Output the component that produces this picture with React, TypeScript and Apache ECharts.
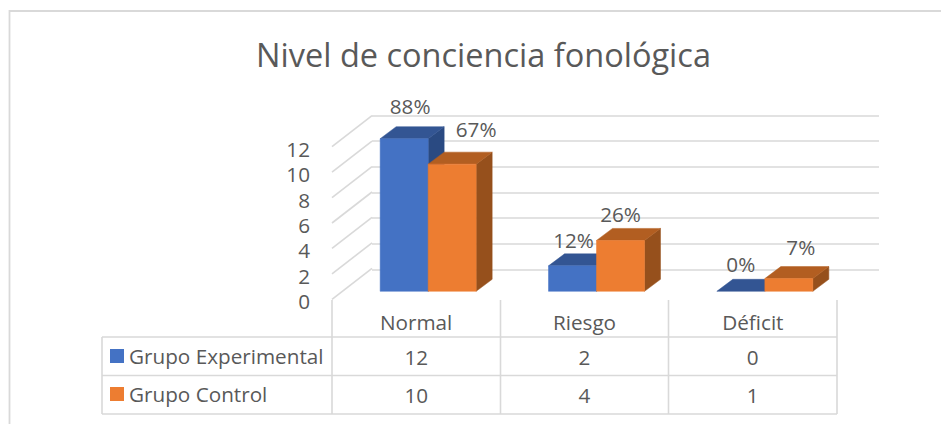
import React, { useEffect, useRef } from "react";
import * as echarts from "echarts";

const title = "Nivel de conciencia fonológica";
const categories = ["Normal", "Riesgo", "Déficit"];
const seriesNames = ["Grupo Experimental", "Grupo Control"];
const experimental = [12, 2, 0];
const control = [10, 4, 1];
const experimentalPct = ["88%", "12%", "0%"];
const controlPct = ["67%", "26%", "7%"];
const yTicks = [0, 2, 4, 6, 8, 10, 12];

const FONT = "'Open Sans', 'Noto Sans', sans-serif";
const TEXT = "#595959";
const LINE = "#D9D9D9";
const BLUE = "#4472C4";
const ORANGE = "#ED7D31";
const BLUE_TOP = "#335593";
const BLUE_SIDE = "#2A4A82";
const ORANGE_TOP = "#B25E21";
const ORANGE_SIDE = "#96501C";

// Table geometry
const TL = 102, T0 = 337, T1 = 375.5, T2 = 414, TV = 300;
const colX = [332, 500.5, 668.5, 837];

const barWidth = 48, planeDx = 12, planeDy = -8, depthX = 16, depthY = -12;
// label displacement relative to the bar's top centre [dx, dy]
const labelShift = [
  [[6, -33], [24, -35]],
  [[1, -26], [0, -26]],
  [[0, -27], [12, -32]],
];

function bar3d(seriesIndex: number, front: string, top: string, side: string) {
  return (params: any, api: any) => {
    const c = api.coord([api.value(0), api.value(1)]);
    const b = api.coord([api.value(0), 0]);
    const x0 = c[0] + planeDx + (seriesIndex === 0 ? -barWidth : 0);
    const x1 = x0 + barWidth;
    const yt = c[1] + planeDy;
    const yb = b[1] + planeDy;
    const poly = (pts: number[][], fill: string) => ({
      type: "polygon",
      shape: { points: pts },
      style: { fill, stroke: fill, lineWidth: 0.5 },
    });
    const children: any[] = [];
    if (yb - yt > 0) {
      children.push(poly([[x1, yt], [x1 + depthX, yt + depthY], [x1 + depthX, yb + depthY], [x1, yb]], side));
    }
    children.push(poly([[x0, yt], [x0 + depthX, yt + depthY], [x1 + depthX, yt + depthY], [x1, yt]], top));
    if (yb - yt > 0) {
      children.push(poly([[x0, yt], [x1, yt], [x1, yb], [x0, yb]], front));
    }
    return { type: "group", children };
  };
}

function barLabels(seriesIndex: number, labels: string[]) {
  return (params: any, api: any) => {
    const i = params.dataIndex;
    const c = api.coord([api.value(0), api.value(1)]);
    const x0 = c[0] + planeDx + (seriesIndex === 0 ? -barWidth : 0);
    const s = labelShift[i][seriesIndex];
    return {
      type: "text",
      x: x0 + barWidth / 2 + s[0],
      y: c[1] + planeDy + s[1],
      style: {
        text: labels[i],
        fill: TEXT,
        font: `20.7px ${FONT}`,
        align: "center",
        verticalAlign: "middle",
      },
    };
  };
}

function sideWalls(params: any, api: any) {
  const f = api.coord([0, api.value(0)]);
  const left = params.coordSys.x;
  return {
    type: "line",
    shape: { x1: left, y1: f[1], x2: left + 40, y2: f[1] - 31 },
    style: { stroke: LINE, lineWidth: 1.6 },
  };
}

const tableText = (text: string, x: number, y: number, align: string) => ({
  type: "text",
  x,
  y,
  style: { text, fill: TEXT, font: `20.7px ${FONT}`, align, verticalAlign: "middle" },
});
const tableLine = (x1: number, y1: number, x2: number, y2: number) => ({
  type: "line",
  shape: { x1, y1, x2, y2 },
  style: { stroke: LINE, lineWidth: 1.6 },
});

export default function App() {
  const ref = useRef<HTMLDivElement>(null);
  useEffect(() => {
    const chart = echarts.init(ref.current!, undefined, { renderer: "svg" });
    const cellCenters = categories.map((_, i) => (colX[i] + colX[i + 1]) / 2);
    const graphics: any[] = [
      { type: "polyline", shape: { points: [[9.5, 424], [9.5, 11], [941, 11]] }, style: { stroke: LINE, lineWidth: 1.8, fill: "none" } },
      tableLine(TL, T0, colX[3], T0),
      tableLine(TL, T1, colX[3], T1),
      tableLine(TL, T2, colX[3], T2),
      tableLine(TL, T0, TL, T2),
      ...colX.map((x) => tableLine(x, TV, x, T2)),
      { type: "rect", shape: { x: 110, y: 349, width: 14, height: 14 }, style: { fill: BLUE } },
      { type: "rect", shape: { x: 110, y: 387, width: 14, height: 14 }, style: { fill: ORANGE } },
      tableText(seriesNames[0], 129, 355.5, "left"),
      tableText(seriesNames[1], 129, 393.5, "left"),
      ...experimental.map((v, i) => tableText(String(v), cellCenters[i], 356.5, "center")),
      ...control.map((v, i) => tableText(String(v), cellCenters[i], 395, "center")),
    ];
    const common = { xAxisIndex: 0, yAxisIndex: 0, silent: true };
    chart.setOption({
      animation: false,
      backgroundColor: "#fff",
      title: {
        text: title,
        left: 478.5,
        top: 33,
        textAlign: "center",
        textStyle: { color: TEXT, fontFamily: FONT, fontWeight: "normal", fontSize: 32.5 },
      },
      grid: [
        { left: 332, width: 505, top: 146.7, height: 152.6 },
        { left: 372, width: 507, top: 115.3, height: 154 },
      ],
      xAxis: [
        {
          type: "category",
          gridIndex: 0,
          data: categories,
          axisLine: { show: false },
          axisTick: { show: false },
          axisLabel: { color: TEXT, fontFamily: FONT, fontSize: 20.7, margin: 12 },
        },
        { type: "category", gridIndex: 1, data: categories, show: false },
      ],
      yAxis: [
        {
          type: "value",
          gridIndex: 0,
          min: 0,
          max: 12,
          interval: 2,
          axisLine: { show: false },
          axisTick: { show: false },
          splitLine: { show: false },
          axisLabel: {
            margin: 22,
            formatter: "{t|{value}}",
            rich: { t: { color: TEXT, fontFamily: FONT, fontSize: 20.7, padding: [4, 0, 0, 0] } },
          },
        },
        {
          type: "value",
          gridIndex: 1,
          min: 0,
          max: 12,
          interval: 2,
          axisLine: { show: false },
          axisTick: { show: false },
          axisLabel: { show: false },
          splitLine: {
            show: true,
            showMinLine: true,
            showMaxLine: true,
            lineStyle: { color: LINE, width: 1.6 },
          },
        },
      ],
      series: [
        { type: "custom", name: "walls", ...common, renderItem: sideWalls, data: yTicks.map((t) => [t]), encode: { y: 0 }, z: 1 },
        { type: "custom", name: seriesNames[0], ...common, renderItem: bar3d(0, BLUE, BLUE_TOP, BLUE_SIDE), data: experimental.map((v, i) => [i, v]), z: 2 },
        { type: "custom", name: seriesNames[1], ...common, renderItem: bar3d(1, ORANGE, ORANGE_TOP, ORANGE_SIDE), data: control.map((v, i) => [i, v]), z: 3 },
        { type: "custom", name: "pct1", ...common, renderItem: barLabels(0, experimentalPct), data: experimental.map((v, i) => [i, v]), z: 4 },
        { type: "custom", name: "pct2", ...common, renderItem: barLabels(1, controlPct), data: control.map((v, i) => [i, v]), z: 4 },
      ],
      graphic: graphics,
    });
    return () => chart.dispose();
  }, []);
  return <div ref={ref} style={{ position: "fixed", left: 0, top: 0, width: 941, height: 424 }} />;
}
